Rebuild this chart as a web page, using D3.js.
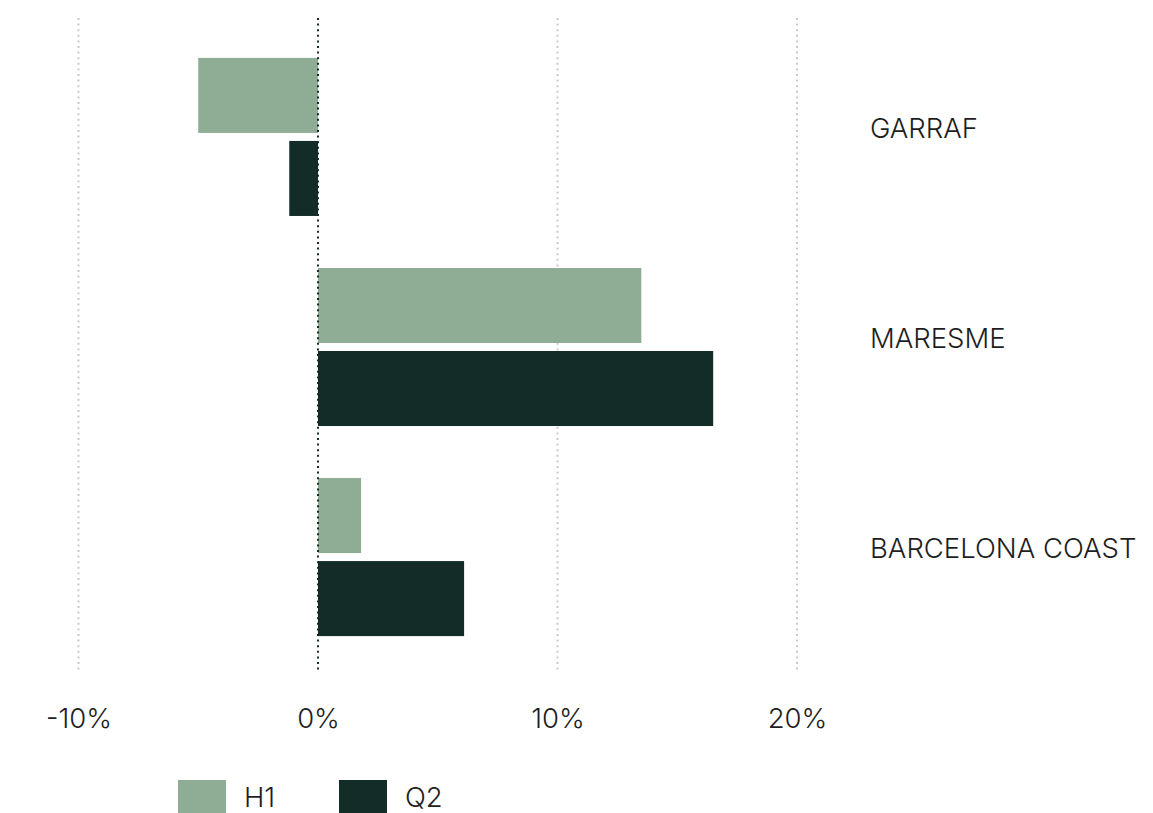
<!DOCTYPE html>
<html>
<head>
<meta charset="utf-8">
<script src="https://cdn.jsdelivr.net/npm/d3@7"></script>
<style>
  html, body { margin: 0; padding: 0; background: #ffffff; }
  svg { display: block; }
  text { font-family: "Inter", "Lato", "Noto Sans", sans-serif; font-weight: 300; fill: #1e1e1e; }
</style>
</head>
<body>
<svg id="chart" width="1153" height="813"></svg>
<script>
// Regions shown on the chart, top to bottom
const regions = ["GARRAF", "MARESME", "BARCELONA COAST"];
// Series names
const seriesNames = ["H1", "Q2"];
// Percentage change per region
const h1Values = [-5.0, 13.5, 1.8];
const q2Values = [-1.2, 16.5, 6.1];
// Axis ticks
const tickValues = [-10, 0, 10, 20];
const tickLabels = ["-10%", "0%", "10%", "20%"];

const colors = { H1: "#8fac95", Q2: "#132c28" };
const fontSize = 27.5;

const rows = regions.map((r, i) => ({ region: r, H1: h1Values[i], Q2: q2Values[i] }));

const svg = d3.select("#chart");

const x = d3.scaleLinear().domain([-10, 20]).range([78.5, 797]);

const y = d3.scaleBand()
  .domain(regions)
  .range([18, 676])
  .paddingInner(0.2476)
  .paddingOuter(0.19);

const ySub = d3.scaleBand()
  .domain(seriesNames)
  .range([0, y.bandwidth()])
  .paddingInner(0.0964);

const gridTop = 18, gridBottom = 672;

// Vertical dotted gridlines
svg.append("g")
  .selectAll("line")
  .data(tickValues.filter(v => v !== 0))
  .join("line")
  .attr("x1", d => x(d)).attr("x2", d => x(d))
  .attr("y1", gridTop).attr("y2", gridBottom)
  .attr("stroke", "#c9c9c9")
  .attr("stroke-width", 2)
  .attr("stroke-dasharray", "2,3.6");

// Bars
const groups = svg.append("g")
  .selectAll("g")
  .data(rows)
  .join("g")
  .attr("transform", d => `translate(0,${y(d.region)})`);

groups.selectAll("rect")
  .data(d => seriesNames.map(k => ({ key: k, value: d[k] })))
  .join("rect")
  .attr("x", d => x(Math.min(0, d.value)))
  .attr("width", d => Math.abs(x(d.value) - x(0)))
  .attr("y", d => ySub(d.key))
  .attr("height", ySub.bandwidth())
  .attr("fill", d => colors[d.key]);

// Zero baseline
svg.append("line")
  .attr("x1", x(0)).attr("x2", x(0))
  .attr("y1", gridTop).attr("y2", gridBottom)
  .attr("stroke", "#132c28")
  .attr("stroke-width", 2)
  .attr("stroke-dasharray", "2,3.6");

// Category labels on the right
svg.append("g")
  .selectAll("text")
  .data(regions)
  .join("text")
  .attr("x", 870)
  .attr("y", d => y(d) + y.bandwidth() / 2 + 1)
  .attr("font-size", fontSize)
  .text(d => d);

// X axis tick labels
const xAxis = d3.axisBottom(x)
  .tickValues(tickValues)
  .tickFormat((d, i) => tickLabels[i])
  .tickSize(0)
  .tickPadding(0);

const axisG = svg.append("g")
  .attr("transform", "translate(0,708)")
  .call(xAxis);
axisG.select(".domain").remove();
axisG.selectAll("text")
  .attr("font-size", fontSize)
  .attr("font-family", null)
  .attr("fill", null)
  .attr("dy", "0.72em");

// Legend
const legend = svg.append("g");
const legendX = [178, 339];
seriesNames.forEach((name, i) => {
  const g = legend.append("g").attr("transform", `translate(${legendX[i]},780)`);
  g.append("rect").attr("width", 48).attr("height", 34).attr("fill", colors[name]);
  g.append("text").attr("x", 66).attr("y", 27).attr("font-size", fontSize).text(name);
});
</script>
</body>
</html>
